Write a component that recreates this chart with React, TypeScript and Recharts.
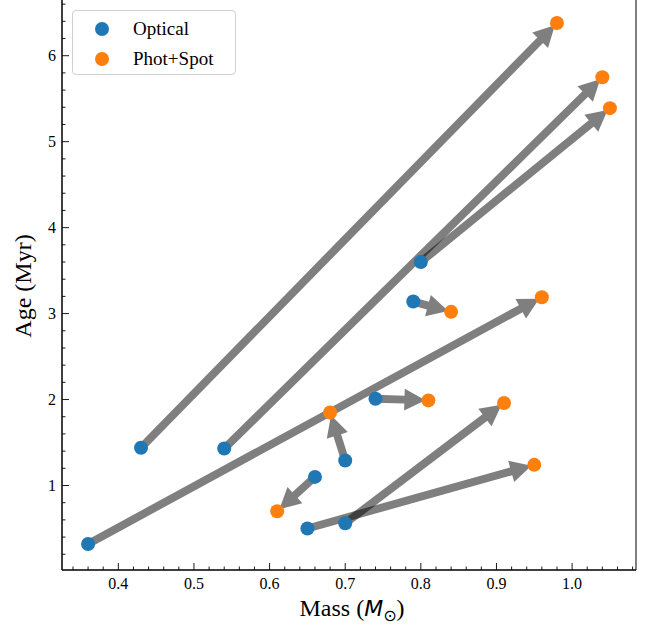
import React from 'react';
import { ScatterChart, Scatter, XAxis, YAxis, ReferenceArea } from 'recharts';

// optical estimates (start of each arrow)
const opticalMass = [0.36, 0.43, 0.54, 0.8, 0.79, 0.74, 0.7, 0.66, 0.65, 0.7];
const opticalAge = [0.32, 1.44, 1.43, 3.6, 3.14, 2.01, 1.29, 1.1, 0.5, 0.56];
// phot+spot estimates (arrow tips)
const spotMass = [0.96, 0.98, 1.04, 1.05, 0.84, 0.81, 0.68, 0.61, 0.95, 0.91];
const spotAge = [3.19, 6.38, 5.75, 5.39, 3.02, 1.99, 1.85, 0.7, 1.24, 1.96];

const xMajorTicks = [0.4, 0.5, 0.6, 0.7, 0.8, 0.9, 1.0];
const yMajorTicks = [1, 2, 3, 4, 5, 6];

const FONT = 'Liberation Serif, serif';
const BLUE = '#1f77b4';
const ORANGE = '#ff7f0e';

const optical = opticalMass.map((m, i) => ({ x: m, y: opticalAge[i] }));
const spot = spotMass.map((m, i) => ({ x: m, y: spotAge[i] }));
const arrows = optical.map((p, i) => [p, spot[i]]);

// matplotlib-like 5% margins
const pad = (arr: number[]) => {
  const lo = Math.min(...arr);
  const hi = Math.max(...arr);
  const d = (hi - lo) * 0.05;
  return [lo - d, hi + d];
};
const xDomain = pad([...opticalMass, ...spotMass]);
const yDomain = pad([...opticalAge, ...spotAge]);

const minorTicks = (lo: number, hi: number, step: number) => {
  const out: number[] = [];
  for (let k = Math.ceil(lo / step - 1e-9); k * step <= hi + 1e-9; k++) out.push(+(k * step).toFixed(4));
  return out;
};
const xTicks = minorTicks(xDomain[0], xDomain[1], 0.02);
const yTicks = minorTicks(yDomain[0], yDomain[1], 0.2);

const isMajor = (v: number, majors: number[]) => majors.some((m) => Math.abs(m - v) < 1e-6);

const XTick = (props: any) => {
  const { x, y, payload } = props;
  const major = isMajor(payload.value, xMajorTicks);
  return (
    <g>
      <line x1={x} x2={x} y1={y} y2={y - (major ? 7 : 3.5)} stroke="#000" strokeWidth={0.9} />
      {major && (
        <text x={x} y={y + 19} textAnchor="middle" style={{ fontFamily: FONT, fontSize: 16 }} fill="#000">
          {payload.value.toFixed(1)}
        </text>
      )}
    </g>
  );
};

const YTick = (props: any) => {
  const { x, y, payload } = props;
  const major = isMajor(payload.value, yMajorTicks);
  return (
    <g>
      <line x1={x} x2={x + (major ? 7 : 3.5)} y1={y} y2={y} stroke="#000" strokeWidth={0.9} />
      {major && (
        <text x={x - 6} y={y + 5.5} textAnchor="end" style={{ fontFamily: FONT, fontSize: 16 }} fill="#000">
          {payload.value}
        </text>
      )}
    </g>
  );
};

// shaft + head drawn as one path so the alpha stays uniform
const renderArrow = (props: any) => {
  const pts = props.points;
  if (!pts || pts.length < 2) return <g />;
  const { x: x1, y: y1 } = pts[0];
  const { x: x2r, y: y2r } = pts[1];
  const dx = x2r - x1;
  const dy = y2r - y1;
  const len = Math.hypot(dx, dy);
  const ux = dx / len;
  const uy = dy / len;
  const nx = -uy;
  const ny = ux;
  const tipX = x2r - ux * 3;
  const tipY = y2r - uy * 3;
  const headLen = 21;
  const hw = 11;
  const sw = 4;
  const bx = tipX - ux * headLen;
  const by = tipY - uy * headLen;
  const d = [
    `M${x1 + nx * sw},${y1 + ny * sw}`,
    `L${bx + nx * sw},${by + ny * sw}`,
    `L${bx + nx * hw},${by + ny * hw}`,
    `L${tipX},${tipY}`,
    `L${bx - nx * hw},${by - ny * hw}`,
    `L${bx - nx * sw},${by - ny * sw}`,
    `L${x1 - nx * sw},${y1 - ny * sw}`,
    'Z',
  ].join(' ');
  return <path d={d} fill="#000" fillOpacity={0.5} stroke="none" />;
};

const Dot = (color: string) => (props: any) => <circle cx={props.cx} cy={props.cy} r={7} fill={color} />;

const legendItems = [
  { label: 'Optical', color: BLUE },
  { label: 'Phot+Spot', color: ORANGE },
];

const LegendBox = () => (
  <div
    style={{
      position: 'absolute',
      left: 72,
      top: 13,
      width: 164,
      height: 65,
      border: '1px solid #d0d0d0',
      borderRadius: 4,
      background: 'rgba(255,255,255,0.8)',
      boxSizing: 'border-box',
      fontFamily: FONT,
      fontSize: 19,
    }}
  >
    {legendItems.map((e, i) => (
      <div key={e.label} style={{ position: 'absolute', left: 22, top: 9 + i * 30, display: 'flex', alignItems: 'center', height: 18 }}>
        <span style={{ width: 14, height: 14, borderRadius: 7, background: e.color, display: 'inline-block' }} />
        <span style={{ marginLeft: 24, lineHeight: '18px' }}>{e.label}</span>
      </div>
    ))}
  </div>
);

const XLabel = () => (
  <text x={352} y={619} textAnchor="middle" style={{ fontFamily: FONT, fontSize: 24 }} fill="#000">
    Mass (
    <tspan style={{ fontFamily: 'DejaVu Sans', fontStyle: 'italic', fontSize: 22 }}>M</tspan>
    <tspan style={{ fontFamily: 'DejaVu Sans', fontSize: 16 }} dy={5}>⊙</tspan>
    <tspan dy={-5}>)</tspan>
  </text>
);

const YLabel = () => (
  <text x={31} y={289} transform="rotate(-90 31 289)" textAnchor="middle" style={{ fontFamily: FONT, fontSize: 24 }} fill="#000">
    Age (Myr)
  </text>
);

export default function App() {
  return (
    <div style={{ position: 'absolute', left: 0, top: -3, width: 654, height: 631, background: '#fff' }}>
      <ScatterChart width={654} height={631} margin={{ top: 0, right: 18, bottom: 0, left: 0 }}>
        <XAxis
          type="number"
          dataKey="x"
          domain={xDomain}
          ticks={xTicks}
          interval={0}
          tickSize={0}
          tickMargin={0}
          tickLine={false}
          tick={<XTick />}
          height={58}
          axisLine={{ stroke: '#000', strokeWidth: 1 }}
          allowDataOverflow
          label={<XLabel />}
        />
        <YAxis
          type="number"
          dataKey="y"
          domain={yDomain}
          ticks={yTicks}
          interval={0}
          tickSize={0}
          tickMargin={0}
          tickLine={false}
          tick={<YTick />}
          width={62}
          axisLine={{ stroke: '#000', strokeWidth: 1 }}
          allowDataOverflow
          label={<YLabel />}
        />
        <ReferenceArea
          x1={xDomain[0]}
          x2={xDomain[1]}
          y1={yDomain[0]}
          y2={yDomain[1]}
          fill="none"
          stroke="#000"
          strokeWidth={1}
          fillOpacity={0}
        />
        {arrows.map((pair, i) => (
          <Scatter
            key={`arrow-${i}`}
            data={pair}
            line={renderArrow}
            lineType="joint"
            shape={() => <g />}
            legendType="none"
            isAnimationActive={false}
          />
        ))}
        <Scatter name="Optical" data={optical} fill={BLUE} shape={Dot(BLUE)} isAnimationActive={false} />
        <Scatter name="Phot+Spot" data={spot} fill={ORANGE} shape={Dot(ORANGE)} isAnimationActive={false} />
      </ScatterChart>
      <LegendBox />
    </div>
  );
}
